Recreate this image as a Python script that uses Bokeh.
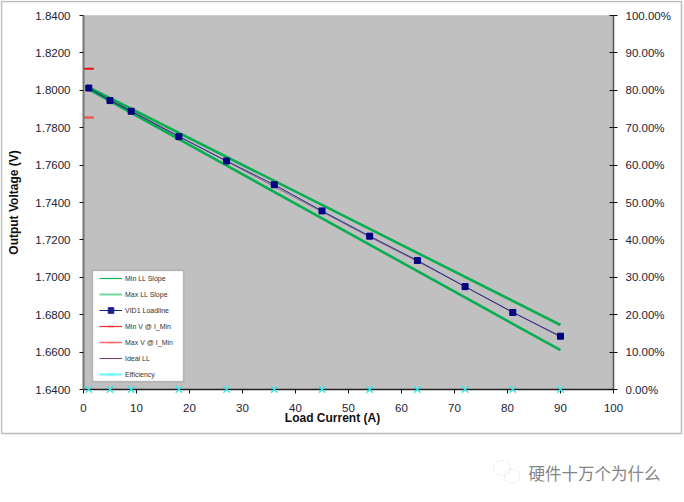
from bokeh.embed import file_html
from bokeh.resources import INLINE
from bokeh.plotting import figure
from bokeh.models import (LinearAxis, Range1d, FixedTicker, NumeralTickFormatter, Legend,
                          LegendItem, BoxAnnotation, Label)

# ---- data ----
load_a = [1, 5, 9, 18, 27, 36, 45, 54, 63, 72, 81, 90]
vid1 = [1.8012, 1.7945, 1.7888, 1.7752, 1.7622, 1.7495, 1.7355, 1.7220, 1.7090, 1.6950, 1.6812, 1.6685]
ideal = [1.8010, 1.7950, 1.7890, 1.7755, 1.7620, 1.7485, 1.7350, 1.7215, 1.7085, 1.6950, 1.6815, 1.6680]
ll_x = [1, 90]
min_ll = [1.8005, 1.6610]
max_ll = [1.8015, 1.6745]
imin_x = [1]
min_v = [1.7855]
max_v = [1.8115]
efficiency = [0.0] * 12
x_ticks = list(range(0, 101, 10))
y_ticks = [1.64, 1.66, 1.68, 1.70, 1.72, 1.74, 1.76, 1.78, 1.80, 1.82, 1.84]
pct_ticks = [0.0, 0.1, 0.2, 0.3, 0.4, 0.5, 0.6, 0.7, 0.8, 0.9, 1.0]

FONT = "Liberation Sans"
TXT = "#222233"

# The plot frame fills the whole canvas and the axes sit inside it, so that nothing
# (markers on the axis, frame, titles, watermark) is cut off at the frame's edge.
W, H = 684, 490
L, R, T, B = 83, 613, 15, 389      # plot area in page pixels
ux = 100 / (R - L)
uy = 0.2 / (B - T)
ue = 1.0 / (B - T)
p = figure(width=W, height=H, output_backend="svg", toolbar_location=None,
           x_range=Range1d(-L * ux, (W - L) * ux),
           y_range=Range1d(1.64 - (H - B) * uy, 1.84 + T * uy),
           min_border_left=0, min_border_right=0, min_border_top=0, min_border_bottom=0,
           background_fill_color="white", border_fill_color="white",
           outline_line_color=None)
p.grid.visible = False
p.extra_y_ranges = {"eff": Range1d(-(H - B) * ue, 1 + T * ue)}

p.add_layout(BoxAnnotation(left=0, right=100, bottom=1.64, top=1.84, fill_color="#c0c0c0", fill_alpha=1,
                           line_color="#a8a8a8", line_width=1, level="underlay"))

def style(ax):
    ax.major_label_text_font = FONT
    ax.major_label_text_font_size = "11.5px"
    ax.major_label_text_color = TXT
    ax.minor_tick_line_color = None
    ax.major_tick_line_color = "#111111"
    ax.major_tick_line_width = 1
    ax.major_tick_out = 4
    ax.major_tick_in = 0

xa = p.xaxis[0]
style(xa)
xa.fixed_location = 1.64
xa.bounds = (0, 100)
xa.ticker = FixedTicker(ticks=x_ticks)
xa.axis_line_color = "#222222"
xa.axis_line_width = 1.5
xa.major_label_standoff = 10

ya = p.yaxis[0]
style(ya)
ya.fixed_location = 0
ya.bounds = (1.64, 1.84)
ya.ticker = FixedTicker(ticks=y_ticks)
ya.formatter = NumeralTickFormatter(format="0.0000")
ya.axis_line_color = "#777777"
ya.axis_line_width = 2
ya.major_label_standoff = 9
ya.axis_label = "Output Voltage (V)"
ya.axis_label_text_font = FONT
ya.axis_label_text_font_style = "bold"
ya.axis_label_text_font_size = "12px"
ya.axis_label_text_color = "#111111"
ya.axis_label_standoff = 11

ra = LinearAxis(y_range_name="eff", fixed_location=100)
style(ra)
ra.bounds = (0, 1)
ra.ticker = FixedTicker(ticks=pct_ticks)
ra.formatter = NumeralTickFormatter(format="0.00%")
ra.axis_line_color = "#555555"
ra.axis_line_width = 1.5
ra.major_tick_in = 4
ra.major_label_standoff = 8
p.add_layout(ra, "right")

GREEN = "#0aae52"
p.line(ll_x, min_ll, line_color=GREEN, line_width=2.6)
p.line(ll_x, max_ll, line_color=GREEN, line_width=2.6)
p.line(load_a, ideal, line_color="#6b2c5e", line_width=1, line_alpha=0.6)
p.line(load_a, vid1, line_color="#2b2b8c", line_width=1)
p.scatter(load_a, vid1, marker="square", size=6, fill_color="#000080", line_color="#000080")
p.scatter(imin_x, max_v, marker="dash", size=10, line_color="#ee1111", line_width=2)
p.scatter(imin_x, min_v, marker="dash", size=10, line_color="#f05a5a", line_width=2.5)
p.scatter(load_a, efficiency, y_range_name="eff", marker="x", size=9, line_color="#2ee8e8",
          line_width=1.3, level="overlay")

# legend frame
p.add_layout(BoxAnnotation(left=92, right=183, top=270, bottom=381,
                           left_units="canvas", right_units="canvas",
                           top_units="canvas", bottom_units="canvas",
                           fill_color="white", fill_alpha=1, line_color="#555555", line_width=1.5,
                           level="annotation"))

# legend swatches: off-range points that carry only the key's look
def key(label, color, width, marker=None, msize=5, mwidth=1):
    rs = [p.line(ll_x[:1], [0], line_color=color, line_width=width)]
    if marker:
        rs.append(p.scatter(ll_x[:1], [0], marker=marker, size=msize, fill_color=color,
                            line_color=color, line_width=mwidth))
    return LegendItem(label=label, renderers=rs)

items = [key("Min LL Slope", "#12b35a", 1.2),
         key("Max LL Slope", "#6fd8a0", 2),
         key("VID1 Loadline", "#1f1f8c", 1, "square", 5),
         key("Min V @ I_Min", "#f52a2a", 1.2, "dash", 5, 1.5),
         key("Max V @ I_Min", "#fa6a6a", 1.5, "dash", 5, 1.5),
         key("Ideal LL", "#7a3a6e", 1),
         key("Efficiency", "#66f5f5", 2, "x", 4, 1)]
leg = Legend(items=items, location=(99, H - 381), orientation="vertical",
             padding=0, margin=0, spacing=2, glyph_width=23, glyph_height=14, label_height=14,
             label_standoff=3, label_text_font=FONT, label_text_font_size="7px",
             label_text_color="#333333", border_line_color=None, background_fill_alpha=0)
p.add_layout(leg)

# outer chart frame
p.add_layout(BoxAnnotation(left=1, right=681, top=1, bottom=433,
                           left_units="canvas", right_units="canvas",
                           top_units="canvas", bottom_units="canvas",
                           fill_alpha=0, line_color="#222222", line_width=1.5))

# x axis title (sits left of the plot centre in the original)
p.add_layout(Label(x=332, y=417, x_units="canvas", y_units="canvas", text="Load Current (A)",
                   text_font=FONT, text_font_style="bold", text_font_size="12px",
                   text_color="#111111", text_align="center", text_baseline="middle"))

# watermark
p.add_layout(Label(x=528, y=472, x_units="canvas", y_units="canvas", text="硬件十万个为什么",
                   text_font="Noto Sans CJK SC", text_font_size="16.5px", text_color="#858585",
                   text_align="left", text_baseline="middle"))

def bubble(left, right, top, bottom):
    p.add_layout(BoxAnnotation(left=left, right=right, top=top, bottom=bottom,
                               left_units="canvas", right_units="canvas",
                               top_units="canvas", bottom_units="canvas",
                               fill_alpha=0, line_color="#a8a8a8", line_width=1, line_dash="1 1",
                               border_radius=8))

bubble(493, 510, 460, 475)
bubble(504, 519, 469, 483)

open("out.html", "w").write(file_html(p, INLINE))
